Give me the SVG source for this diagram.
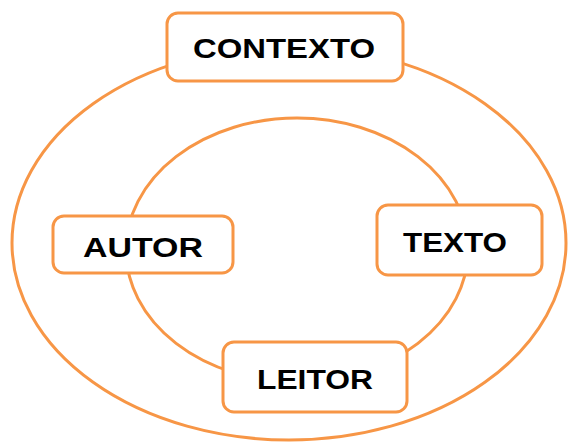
<svg xmlns="http://www.w3.org/2000/svg" width="571" height="444" viewBox="0 0 571 444">
<style>
.ring{fill:none;stroke:#F79646;stroke-width:3}
.box{fill:#fff;stroke:#F79646;stroke-width:3}
.lbl{font-family:"Liberation Sans",Arial,sans-serif;font-weight:bold;font-size:27px;fill:#000}
</style>
<rect width="571" height="444" fill="#fff"/>
<g id="connectors">
<ellipse class="ring" cx="289" cy="243" rx="277" ry="197"/>
<ellipse class="ring" cx="297" cy="250" rx="171" ry="132"/>
</g>
<g id="contexto">
<rect class="box" x="167" y="13" width="236" height="68" rx="11"/>
<text class="lbl" x="193" y="58" textLength="182" lengthAdjust="spacingAndGlyphs">CONTEXTO</text>
</g>
<g id="autor">
<rect class="box" x="53" y="216" width="180" height="57" rx="11"/>
<text class="lbl" x="83" y="257" textLength="120" lengthAdjust="spacingAndGlyphs">AUTOR</text>
</g>
<g id="texto">
<rect class="box" x="377" y="205" width="165" height="70" rx="11"/>
<text class="lbl" x="403" y="252" textLength="104" lengthAdjust="spacingAndGlyphs">TEXTO</text>
</g>
<g id="leitor">
<rect class="box" x="223" y="342" width="184" height="70" rx="11"/>
<text class="lbl" x="257" y="389" textLength="116" lengthAdjust="spacingAndGlyphs">LEITOR</text>
</g>
</svg>
